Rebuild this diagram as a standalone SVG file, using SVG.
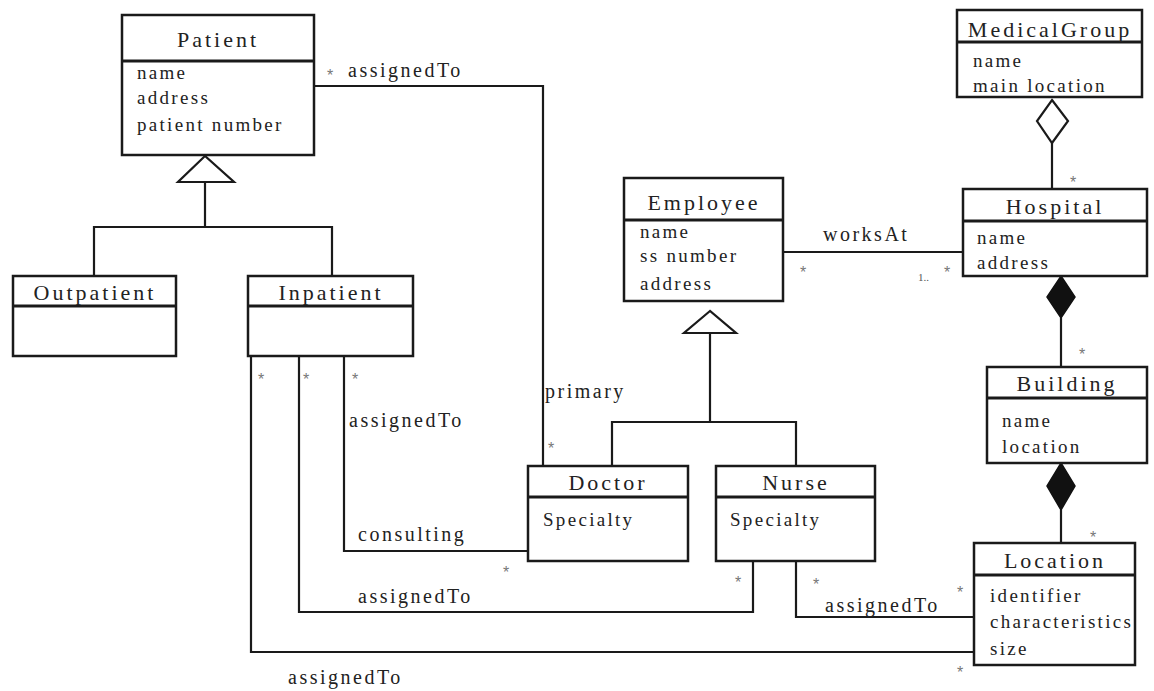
<svg xmlns="http://www.w3.org/2000/svg" width="1154" height="691" viewBox="0 0 1154 691">
<style>
.box{fill:#fff;stroke:#1a1a1a;stroke-width:2.5}
.div{stroke:#1a1a1a;stroke-width:3}
.ln{fill:none;stroke:#1a1a1a;stroke-width:2.2}
.title{font-family:"Liberation Serif","Times New Roman",serif;font-size:22px;letter-spacing:3px;fill:#222;text-anchor:middle}
.attr{font-family:"Liberation Serif","Times New Roman",serif;font-size:19px;letter-spacing:2.3px;fill:#222}
.lbl{font-family:"Liberation Serif","Times New Roman",serif;font-size:20px;letter-spacing:2.5px;fill:#222}
.star{font-family:"Liberation Sans",sans-serif;font-size:16px;fill:#777;text-anchor:middle}
.small{font-family:"Liberation Serif",serif;font-size:11px;fill:#555}
</style>
<rect width="1154" height="691" fill="#fff"/>
<g id="connectors">
<polyline class="ln" points="314,86 543,86 543,466"/>
<polygon points="205,156 178,182 234,182" fill="#fff" stroke="#1a1a1a" stroke-width="2.2"/>
<polyline class="ln" points="205,182 205,227"/>
<polyline class="ln" points="94,276 94,227 332,227 332,276"/>
<polygon points="710,311 684,333 736,333" fill="#fff" stroke="#1a1a1a" stroke-width="2.2"/>
<polyline class="ln" points="710,333 710,422"/>
<polyline class="ln" points="612,466 612,422 796,422 796,466"/>
<polyline class="ln" points="783,252 963,252"/>
<polygon points="1052,100 1068,121 1052,143 1037,121" fill="#fff" stroke="#1a1a1a" stroke-width="2.2"/>
<polyline class="ln" points="1052,143 1052,189"/>
<polygon points="1061,276 1075,297 1061,318 1047,297" fill="#111" stroke="#111" stroke-width="1.5"/>
<polyline class="ln" points="1061,318 1061,367"/>
<polygon points="1061,463 1075,486 1061,510 1047,486" fill="#111" stroke="#111" stroke-width="1.5"/>
<polyline class="ln" points="1061,510 1061,543"/>
<polyline class="ln" points="344,356 344,551 528,551"/>
<polyline class="ln" points="299,356 299,612 753,612 753,561"/>
<polyline class="ln" points="251,356 251,652 974,652"/>
<polyline class="ln" points="796,561 796,617 974,617"/>
<text class="lbl" x="348" y="77">assignedTo</text>
<text class="lbl" x="545" y="398">primary</text>
<text class="lbl" x="823" y="241">worksAt</text>
<text class="lbl" x="349" y="427">assignedTo</text>
<text class="lbl" x="358" y="541">consulting</text>
<text class="lbl" x="358" y="603">assignedTo</text>
<text class="lbl" x="288" y="684">assignedTo</text>
<text class="lbl" x="825" y="612">assignedTo</text>
<text class="small" x="918" y="281">1..</text>
<text class="star" x="330" y="81">*</text>
<text class="star" x="551" y="454">*</text>
<text class="star" x="803" y="278">*</text>
<text class="star" x="947" y="278">*</text>
<text class="star" x="1073" y="188">*</text>
<text class="star" x="1082" y="360">*</text>
<text class="star" x="1093" y="543">*</text>
<text class="star" x="261" y="385">*</text>
<text class="star" x="306" y="385">*</text>
<text class="star" x="355" y="385">*</text>
<text class="star" x="506" y="578">*</text>
<text class="star" x="738" y="588">*</text>
<text class="star" x="816" y="590">*</text>
<text class="star" x="960" y="598">*</text>
<text class="star" x="960" y="678">*</text>
</g>
<g id="patient">
<rect class="box" x="122" y="15" width="192" height="140"/>
<line class="div" x1="122" y1="61" x2="314" y2="61"/>
<text class="title" x="218" y="47">Patient</text>
<text class="attr" x="137" y="79">name</text>
<text class="attr" x="137" y="104">address</text>
<text class="attr" x="137" y="131">patient number</text>
</g>
<g id="outpatient">
<rect class="box" x="13" y="276" width="163" height="80"/>
<line class="div" x1="13" y1="306" x2="176" y2="306"/>
<text class="title" x="95" y="300">Outpatient</text>
</g>
<g id="inpatient">
<rect class="box" x="248" y="276" width="165" height="80"/>
<line class="div" x1="248" y1="306" x2="413" y2="306"/>
<text class="title" x="331" y="300">Inpatient</text>
</g>
<g id="employee">
<rect class="box" x="624" y="178" width="159" height="123"/>
<line class="div" x1="624" y1="220" x2="783" y2="220"/>
<text class="title" x="704" y="210">Employee</text>
<text class="attr" x="640" y="238">name</text>
<text class="attr" x="640" y="262">ss number</text>
<text class="attr" x="640" y="290">address</text>
</g>
<g id="doctor">
<rect class="box" x="528" y="466" width="160" height="95"/>
<line class="div" x1="528" y1="497" x2="688" y2="497"/>
<text class="title" x="608" y="490">Doctor</text>
<text class="attr" x="543" y="526">Specialty</text>
</g>
<g id="nurse">
<rect class="box" x="716" y="466" width="159" height="95"/>
<line class="div" x1="716" y1="497" x2="875" y2="497"/>
<text class="title" x="796" y="490">Nurse</text>
<text class="attr" x="730" y="526">Specialty</text>
</g>
<g id="medicalgroup">
<rect class="box" x="957" y="10" width="185" height="87"/>
<line class="div" x1="957" y1="42" x2="1142" y2="42"/>
<text class="title" x="1050" y="37" letter-spacing="2">MedicalGroup</text>
<text class="attr" x="973" y="67">name</text>
<text class="attr" x="973" y="92">main location</text>
</g>
<g id="hospital">
<rect class="box" x="963" y="189" width="184" height="87"/>
<line class="div" x1="963" y1="221" x2="1147" y2="221"/>
<text class="title" x="1055" y="214">Hospital</text>
<text class="attr" x="977" y="244">name</text>
<text class="attr" x="977" y="269">address</text>
</g>
<g id="building">
<rect class="box" x="987" y="367" width="160" height="96"/>
<line class="div" x1="987" y1="398" x2="1147" y2="398"/>
<text class="title" x="1067" y="391">Building</text>
<text class="attr" x="1002" y="427">name</text>
<text class="attr" x="1002" y="453">location</text>
</g>
<g id="location">
<rect class="box" x="974" y="543" width="161" height="122"/>
<line class="div" x1="974" y1="575" x2="1135" y2="575"/>
<text class="title" x="1055" y="568">Location</text>
<text class="attr" x="990" y="602">identifier</text>
<text class="attr" x="990" y="628">characteristics</text>
<text class="attr" x="990" y="655">size</text>
</g>
</svg>
